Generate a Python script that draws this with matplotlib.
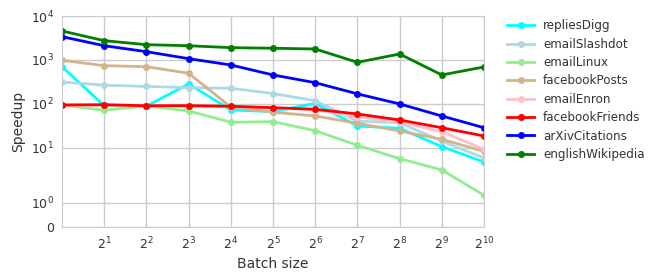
import matplotlib
matplotlib.use('Agg')
import matplotlib.pyplot as plt
import numpy as np

batch_sizes = [1, 2, 4, 8, 16, 32, 64, 128, 256, 512, 1024]

replies_digg = [700, 90, 88, 282, 72, 66, 102, 31, 27.6, 10.5, 4.7]
email_slashdot = [313, 265, 248, 232, 225, 171, 117, 40, 37, 14, 5.8]
email_linux = [93, 71, 89, 68.4, 37.8, 39, 24.3, 11.3, 5.6, 3.1, 1.3]
facebook_posts = [979, 737, 700, 495, 84, 64, 52.6, 35.8, 23.9, 15.5, 8.2]
email_enron = [92, 93, 89, 89, 86, 80, 73, 50, 38, 23, 9.2]
facebook_friends = [93.7, 95, 90, 90.3, 87.5, 81.3, 74.8, 58.4, 42.6, 28.4, 18.4]
arxiv_citations = [3380, 2100, 1540, 1065, 765, 453, 302, 168, 99, 52.6, 28.4]
english_wikipedia = [4560, 2740, 2220, 2100, 1900, 1840, 1770, 880, 1360, 453, 689]

names = ['repliesDigg', 'emailSlashdot', 'emailLinux', 'facebookPosts',
         'emailEnron', 'facebookFriends', 'arXivCitations', 'englishWikipedia']
series = [replies_digg, email_slashdot, email_linux, facebook_posts,
          email_enron, facebook_friends, arxiv_citations, english_wikipedia]
colors = ['cyan', 'lightblue', 'lightgreen', 'tan', 'pink', 'red', 'blue', 'green']

fig = plt.figure(figsize=(6.64, 2.79), dpi=100)
ax = fig.add_axes([62 / 664, 52 / 279, 422 / 664, 211 / 279])

for name, vals, c in zip(names, series, colors):
    ax.plot(batch_sizes, vals, color=c, label=name, lw=2, marker='o', markersize=4)

ax.set_xscale('log', base=2)
ax.set_yscale('symlog', linthresh=2, linscale=1)
ax.set_xlim(1, 1024)
ax.set_ylim(0, 1e4)

ax.set_xticks([2 ** k for k in range(1, 11)])
ax.set_xticklabels(['$2^{%d}$' % k for k in range(1, 11)])
ax.set_yticks([0, 1, 10, 100, 1000, 10000])
ax.set_yticklabels(['0', '$10^0$', '$10^1$', '$10^2$', '$10^3$', '$10^4$'])
ax.xaxis.set_minor_locator(matplotlib.ticker.NullLocator())
ax.yaxis.set_minor_locator(matplotlib.ticker.NullLocator())

ax.grid(True, color='#cccccc', lw=1)
ax.set_axisbelow(True)
for s in ax.spines.values():
    s.set_color('#cccccc')
ax.tick_params(length=0, labelsize=9, colors='#333333', pad=6)

ax.set_xlabel('Batch size', fontsize=10, color='#333333')
ax.set_ylabel('Speedup', fontsize=10, color='#333333')

# legend sits outside, to the right of the axes
leg = ax.legend(loc='upper left', bbox_to_anchor=(1.03, 1.035), frameon=False,
                fontsize=8.6, labelspacing=0.45, handlelength=2.2)
for t in leg.get_texts():
    t.set_color('#333333')

fig.savefig('out.png', dpi=100)
